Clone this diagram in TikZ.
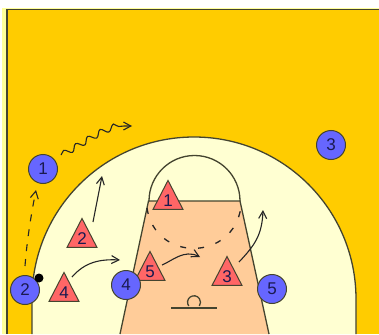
\documentclass[tikz,border=0pt]{standalone}
\usepackage{fontspec}
\setmainfont{Liberation Sans}
\usetikzlibrary{positioning,arrows.meta,calc,shapes.geometric,decorations.pathmorphing}
\definecolor{courtgold}{HTML}{FFCC00}
\definecolor{courtcream}{HTML}{FFFFD2}
\definecolor{edgecream}{HTML}{FFFF99}
\definecolor{lanepeach}{HTML}{FFCC99}
\definecolor{courtline}{HTML}{44442F}
\definecolor{offblue}{HTML}{6666FF}
\definecolor{defred}{HTML}{FF6666}
\definecolor{numink}{HTML}{1A1A50}
\tikzset{
  >={Straight Barb[length=2.6mm,width=2.8mm]},
  cline/.style={draw=courtline,line width=1.3pt},
  off/.style={circle,draw=courtline,fill=offblue,line width=1pt,minimum size=29pt,
    inner sep=0pt,text=numink,font=\fontsize{17}{17}\selectfont},
  def/.style={isosceles triangle,isosceles triangle stretches,shape border rotate=90,
    draw=courtline,fill=defred,line width=1pt,minimum width=30pt,minimum height=29pt,
    inner sep=0pt,text=numink,font=\fontsize{17}{17}\selectfont},
  ballmark/.style={circle,fill=black,minimum size=9pt,inner sep=0pt},
  mv/.style={->,line width=1.1pt,black!85},
  drive/.style={mv,decorate,decoration={snake,segment length=14pt,amplitude=3pt,post length=8pt}},
  pass/.style={line width=1.3pt,black!85,dash pattern=on 6pt off 12pt},
}
\begin{document}
\begin{tikzpicture}[x=1pt,y=-1pt]
  \useasboundingbox (0,0) rectangle (379,334);
  % floor
  \fill[edgecream] (2,8) rectangle (379,334);
  \fill[courtgold] (7,9.5) rectangle (379,334);
  \draw[draw=courtline,line width=1.8pt] (7,334) -- (7,9.5) -- (379,9.5);
  % three point line and lane
  \draw[cline,fill=courtcream] (32,334) -- (32,299) arc[start angle=180,end angle=360,radius=162] -- (356,334);
  \fill[lanepeach] (148.5,201) -- (240,201) -- (269,334) -- (120,334) -- cycle;
  \draw[cline] (120,334) -- (148.5,201) -- (240,201) -- (269,334);
  \draw[cline] (149,201) arc[start angle=180,end angle=360,radius=45.5];
  % basket
  \draw[cline] (171,308) -- (217,308);
  \draw[cline] (188.7,306) arc[start angle=145,end angle=395,radius=6.5];
  % players
  \node[def] (def1) at (168,201) {1};
  \node[def] (def2) at (82,239) {2};
  \node[def] (def4) at (64,293) {4};
  \node[def] (def5) at (150,272) {5};
  \node[def] (def3) at (227,277) {3};
  \node[off] (off1) at (43,169) {1};
  \node[off] (off2) at (25,290) {2};
  \node[off] (off3) at (331,145) {3};
  \node[off] (off4) at (126,285) {4};
  \node[off] (off5) at (272,289) {5};
  \node[ballmark] (ball) at (39,278) {};
  % free ends of the moves
  \coordinate (end1) at (132,126);
  \coordinate (end2) at (102,176);
  \coordinate (end3) at (263,210);
  \coordinate (end4) at (120,260);
  \coordinate (end5) at (200,257);
  \coordinate (passl) at (147,208);
  \coordinate (passr) at (241,207);
  % moves
  \draw[drive] ([shift={(18,-14)}]off1.center) .. controls (85,143) and (105,124) .. (end1);
  \draw[mv,dash pattern=on 7pt off 8pt] ([shift={(0,-24)}]off2.center) .. controls (27,240) and (31,215) .. ([shift={(-7,21)}]off1.center);
  \draw[mv] ([shift={(11,-17)}]def2.center) -- (end2);
  \draw[mv] ([shift={(8,-16)}]def4.center) .. controls (85,262) and (100,259) .. (end4);
  \draw[mv] ([shift={(12,-7)}]def5.center) .. controls (172,261) and (184,249) .. (end5);
  \draw[mv] ([shift={(12,-15)}]def3.center) .. controls (255,245) and (262,235) .. (end3);
  \draw[pass] (passl) .. controls (155,262) and (233,262) .. (passr);
\end{tikzpicture}
\end{document}
